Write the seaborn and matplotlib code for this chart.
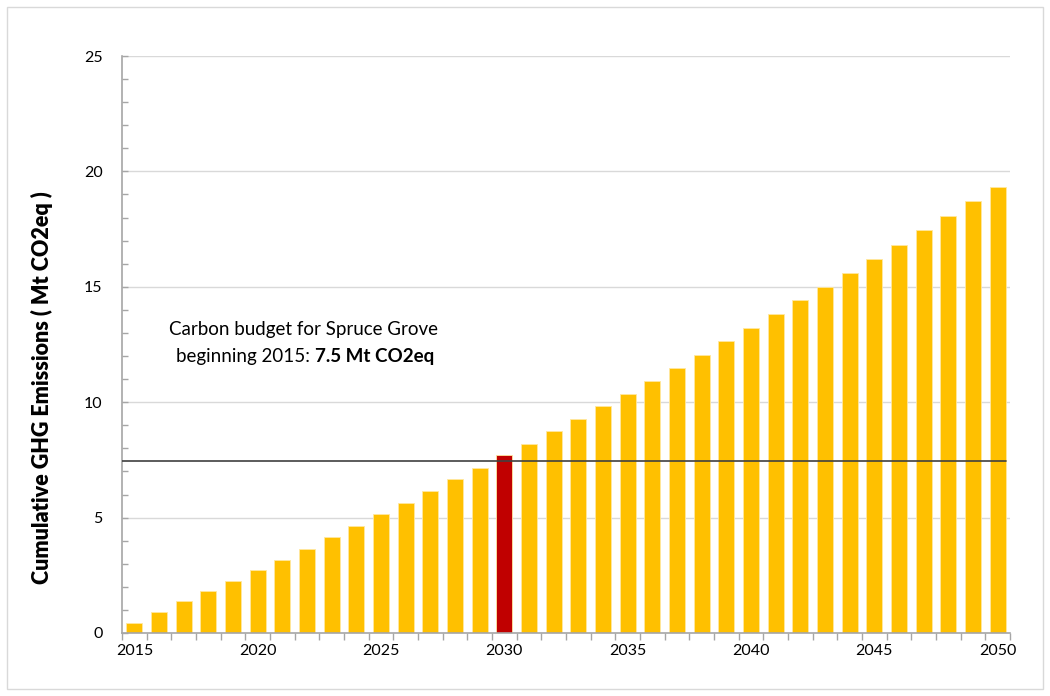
import numpy as np
import pandas as pd
import matplotlib
matplotlib.use("Agg")
import matplotlib.pyplot as plt
import seaborn as sns
from matplotlib.patches import Rectangle

years = list(range(2015, 2051))
cumulative = [0.42, 0.91, 1.39, 1.82, 2.27, 2.72, 3.18, 3.66, 4.15, 4.65,
              5.14, 5.63, 6.14, 6.67, 7.15, 7.70, 8.21, 8.75, 9.28, 9.83,
              10.37, 10.94, 11.50, 12.06, 12.64, 13.21, 13.80, 14.41, 15.01, 15.61,
              16.22, 16.83, 17.46, 18.08, 18.70, 19.34]
highlight_year = 2030
budget = 7.45
yticks = [0, 5, 10, 15, 20, 25]
xtick_years = [2015, 2020, 2025, 2030, 2035, 2040, 2045, 2050]

sns.set_theme(style="white")
plt.rcParams['font.family'] = ['Lato', 'DejaVu Sans']
plt.rcParams['text.color'] = '#000000'

df = pd.DataFrame({"year": [str(y) for y in years], "value": cumulative})
palette = {str(y): ("#C00000" if y == highlight_year else "#FFC000") for y in years}

fig = plt.figure(figsize=(10.5, 6.96), dpi=100)
ax = fig.add_axes([122/1050, 1-633/696, (1010-122)/1050, (633-56)/696])

sns.barplot(data=df, x="year", y="value", hue="year", palette=palette,
            legend=False, width=0.65, ax=ax, edgecolor="#FFE8A0", linewidth=0.6,
            saturation=1)

ax.set_xlim(-0.5, len(years) - 0.5)
ax.set_ylim(0, 25)

# gridlines
for t in yticks[1:]:
    ax.axhline(t, color="#D9D9D9", lw=1.0, zorder=0)

# budget line
ax.axhline(budget, xmin=0, xmax=0.995, color="#404040", lw=1.2, zorder=5)

# y ticks
ax.set_yticks(yticks)
ax.set_yticks(np.arange(0, 26, 1), minor=True)
ax.tick_params(axis="y", which="both", direction="in", length=4, color="#A6A6A6",
               width=1, labelsize=11.5, pad=14, labelcolor="#000000", left=True)

# x ticks
pos = [years.index(y) for y in xtick_years]
ax.set_xticks(pos)
ax.set_xticklabels([str(y) for y in xtick_years])
ax.set_xticks(np.arange(-0.5, len(years), 1), minor=True)
ax.tick_params(axis="x", which="major", length=0, labelsize=11.5, pad=8, labelcolor="#000000")
ax.tick_params(axis="x", which="minor", direction="out", length=5, color="#A6A6A6",
               width=1, bottom=True)

for s in ["top", "right"]:
    ax.spines[s].set_visible(False)
for s in ["left", "bottom"]:
    ax.spines[s].set_color("#A6A6A6")
    ax.spines[s].set_linewidth(1.2)

ax.set_xlabel("")
ax.set_ylabel("")

fig.text(42/1050, 1-388/696, "Cumulative GHG Emissions ( Mt CO2eq )", rotation=90,
         ha="center", va="center", fontsize=15.5, fontweight="heavy", color="#000000")

ax.text(6.84, 13.13, "Carbon budget for Spruce Grove", ha="center", va="center",
        fontsize=13.5, color="#000000")
ax.text(7.32, 12.0, "beginning 2015: ", ha="right", va="center", fontsize=13.5, color="#000000")
ax.text(7.32, 12.0, "7.5 Mt CO2eq", ha="left", va="center", fontsize=13.5,
        fontweight="bold", color="#000000")

fig.patches.append(Rectangle((7/1050, 7/696), 1-14/1050, 1-14/696, transform=fig.transFigure,
                             fill=False, edgecolor="#D9D9D9", lw=1))

fig.savefig("out.png", dpi=100)
